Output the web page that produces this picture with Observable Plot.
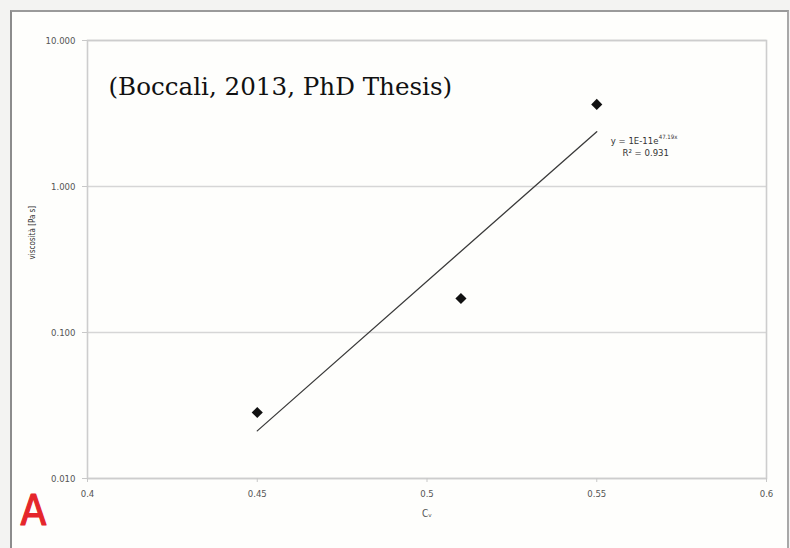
<!DOCTYPE html>
<html>
<head>
<meta charset="utf-8">
<script src="https://cdn.jsdelivr.net/npm/d3@7"></script>
<script src="https://cdn.jsdelivr.net/npm/@observablehq/plot@0.6"></script>
<style>
  html, body { margin: 0; padding: 0; background: #f3f3f2; }
  #wrap { position: relative; width: 790px; height: 548px; overflow: hidden; }
  #panel {
    position: absolute; left: 10px; top: 10px; width: 775px; height: 545px;
    background: #fefefc;
    border-left: 2px solid #8c8c8c; border-top: 2px solid #9a9a9a; border-right: 2px solid #a8a8a8;
  }
  #chart { position: absolute; left: 0; top: 0; }
</style>
</head>
<body>
<div id="wrap"><div id="panel"></div><div id="chart"></div></div>
<script>
// Measured viscosity against volumetric concentration
const concentration = [0.45, 0.51, 0.55];
const viscosity = [0.0283, 0.171, 3.65];

// Exponential trend line y = a·e^(k·x) and its fit quality
const trendA = 1.27e-11;
const trendK = 47.19;
const trendR2 = 0.931;
const trendRange = [0.45, 0.55];

// Axis ticks
const xTicks = [0.4, 0.45, 0.5, 0.55, 0.6];
const xTickLabels = ["0.4", "0.45", "0.5", "0.55", "0.6"];
const yTicks = [0.01, 0.1, 1, 10];
const yTickLabels = ["0.010", "0.100", "1.000", "10.000"];

const xLabel = "Cᵥ";
const yLabel = "viscosità [Pa s]";
const title = "(Boccali, 2013, PhD Thesis)";
const panelTag = "A";

const points = concentration.map((c, i) => ({c, v: viscosity[i]}));
const trend = trendRange.map(c => ({c, v: trendA * Math.exp(trendK * c)}));
const trendEnd = trend[trend.length - 1];
const eqMain = `y = ${trendA.toExponential(0).toUpperCase().replace("+", "")}e`;
const eqSup = `${trendK.toFixed(2)}x`;
const eqR2 = `R² = ${trendR2.toFixed(3)}`;

const tickFont = "'Liberation Sans Narrow', 'DejaVu Sans Condensed', sans-serif";

const chart = Plot.plot({
  width: 790,
  height: 548,
  marginLeft: 87,
  marginRight: 24,
  marginTop: 40,
  marginBottom: 70,
  style: {background: "transparent", fontFamily: tickFont, fontSize: "9.5px", color: "#555"},
  x: {domain: [0.4, 0.6]},
  y: {type: "log", domain: [0.01, 10]},
  marks: [
    Plot.ruleY(yTicks, {stroke: "#d6d6d6", strokeWidth: 1.3}),
    Plot.frame({stroke: "#cdcdcd", strokeWidth: 1.6}),
    Plot.axisX({
      ticks: xTicks, tickFormat: d => xTickLabels[xTicks.indexOf(d)],
      tickSize: 4, tickPadding: 8, stroke: "#c8c8c8", fill: "#555", label: null
    }),
    Plot.axisY({
      ticks: yTicks, tickFormat: d => yTickLabels[yTicks.indexOf(d)],
      tickSize: 5, tickPadding: 7, stroke: "#c8c8c8", fill: "#555", label: null
    }),
    Plot.line(trend, {x: "c", y: "v", stroke: "#3a3a3a", strokeWidth: 1.3}),
    Plot.dot(points, {x: "c", y: "v", symbol: "diamond2", r: 5, fill: "#111", stroke: "none"}),
    Plot.text([trendEnd], {x: "c", y: "v", text: () => eqMain, textAnchor: "start", dx: 14, dy: 9, fontSize: 9.5, fill: "#333"}),
    Plot.text([trendEnd], {x: "c", y: "v", text: () => eqSup, textAnchor: "start", dx: 62, dy: 5, fontSize: 6, fill: "#333"}),
    Plot.text([trendEnd], {x: "c", y: "v", text: () => eqR2, textAnchor: "middle", dx: 49, dy: 21, fontSize: 9.5, fill: "#333"}),
    Plot.text([xLabel], {text: d => d, frameAnchor: "bottom", dy: 38, fontSize: 10, fill: "#555"}),
    Plot.text([yLabel], {text: d => d, frameAnchor: "left", rotate: -90, dx: -55, fontSize: 8, fill: "#333"}),
    Plot.text([title], {text: d => d, frameAnchor: "top-left", textAnchor: "start", dx: 21, dy: 37,
      fontSize: 24.6, fontFamily: "'DejaVu Serif', serif", fill: "#111"}),
    Plot.text([panelTag], {text: d => d, frameAnchor: "bottom-left", textAnchor: "start", dx: -67, dy: 46,
      fontSize: 42, fontFamily: "'Liberation Sans Narrow', 'DejaVu Sans Condensed', sans-serif",
      fill: "#e5262b", stroke: "#e5262b", strokeWidth: 1.2})
  ]
});
document.getElementById("chart").append(chart);
</script>
</body>
</html>
